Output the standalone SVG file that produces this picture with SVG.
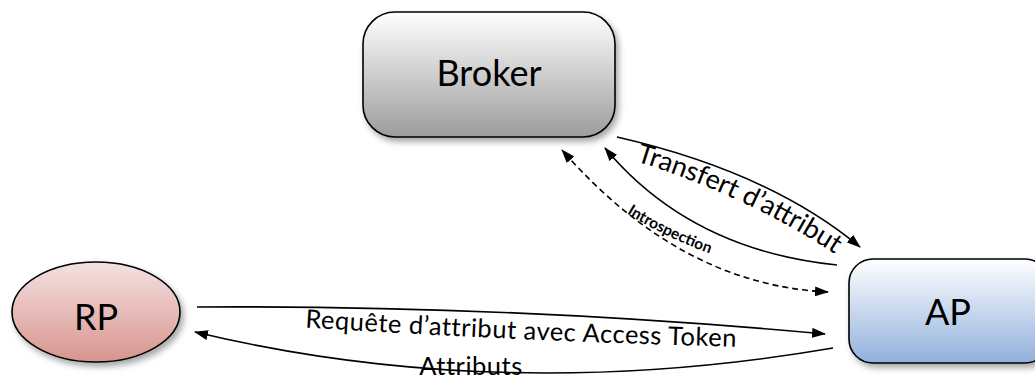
<svg xmlns="http://www.w3.org/2000/svg" width="1035" height="380" viewBox="0 0 1035 380">
  <style>
    .node-label { font-family: Lato, "Open Sans", sans-serif; font-size: 36px; fill: #000; text-anchor: middle; }
    .edge-label { font-family: Lato, "Open Sans", sans-serif; fill: #000; }
    .edge { fill: none; stroke: #000; stroke-width: 1.6; }
    .dashed { stroke-dasharray: 6 4; }
    .shape { stroke: #000; stroke-width: 1.6; }
  </style>
  <defs>
    <linearGradient id="gradGray" x1="0" y1="0" x2="0" y2="1">
      <stop offset="0" stop-color="#ffffff"/>
      <stop offset="1" stop-color="#9c9c9c"/>
    </linearGradient>
    <linearGradient id="gradRed" x1="0" y1="0" x2="0" y2="1">
      <stop offset="0" stop-color="#f4e2e1"/>
      <stop offset="1" stop-color="#d8948f"/>
    </linearGradient>
    <linearGradient id="gradBlue" x1="0" y1="0" x2="0" y2="1">
      <stop offset="0" stop-color="#ffffff"/>
      <stop offset="1" stop-color="#91b0dd"/>
    </linearGradient>
    <filter id="shadow" x="-10%" y="-10%" width="130%" height="140%">
      <feDropShadow dx="3" dy="4" stdDeviation="3" flood-color="#000" flood-opacity="0.35"/>
    </filter>
    <marker id="arrow" viewBox="0 0 14 10" refX="13" refY="5" markerWidth="14" markerHeight="10" markerUnits="userSpaceOnUse" orient="auto-start-reverse">
      <path d="M0,0 L14,5 L0,10 Z" fill="#000"/>
    </marker>
    <!-- baselines for the labels that follow their connectors -->
    <path id="pTransfert" d="M625,158 Q 744,193 844,260"/>
    <path id="pIntro" d="M612,204 Q 668,241 726,259"/>
    <path id="pRequete" d="M298,327 Q 515,341 744,347"/>
  </defs>

  <g id="connectors">
    <path class="edge" d="M617,137 Q 770,172 860,247" marker-end="url(#arrow)"/>
    <path class="edge" d="M837,265 Q 690,250 605,148" marker-end="url(#arrow)"/>
    <path class="edge dashed" d="M828,292 Q 680,285 562,150" marker-start="url(#arrow)" marker-end="url(#arrow)"/>
    <path class="edge" d="M197,307 Q 510,305 825,334" marker-end="url(#arrow)"/>
    <path class="edge" d="M833,348 Q 500,405 195,332" marker-end="url(#arrow)"/>
    <text class="edge-label" font-size="27"><textPath href="#pTransfert" startOffset="50%" text-anchor="middle">Transfert d’attribut</textPath></text>
    <text class="edge-label" font-size="15.5" font-weight="bold"><textPath href="#pIntro" startOffset="50%" text-anchor="middle">Introspection</textPath></text>
    <text class="edge-label" font-size="25.5" letter-spacing="0.5"><textPath href="#pRequete" startOffset="50%" text-anchor="middle">Requête d’attribut avec Access Token</textPath></text>
    <text class="edge-label" font-size="25.5" letter-spacing="0.5" x="471" y="375" text-anchor="middle">Attributs</text>
  </g>

  <g id="broker">
    <rect class="shape" x="363" y="12" width="252" height="125" rx="32" ry="32" fill="url(#gradGray)" filter="url(#shadow)"/>
    <text class="node-label" x="489" y="86" font-size="39">Broker</text>
  </g>

  <g id="rp">
    <ellipse class="shape" cx="96" cy="312" rx="84" ry="50" fill="url(#gradRed)" filter="url(#shadow)"/>
    <text class="node-label" x="96" y="330">RP</text>
  </g>

  <g id="ap">
    <rect class="shape" x="849" y="259" width="200" height="104" rx="24" ry="24" fill="url(#gradBlue)" filter="url(#shadow)"/>
    <text class="node-label" x="948" y="325">AP</text>
  </g>
</svg>
